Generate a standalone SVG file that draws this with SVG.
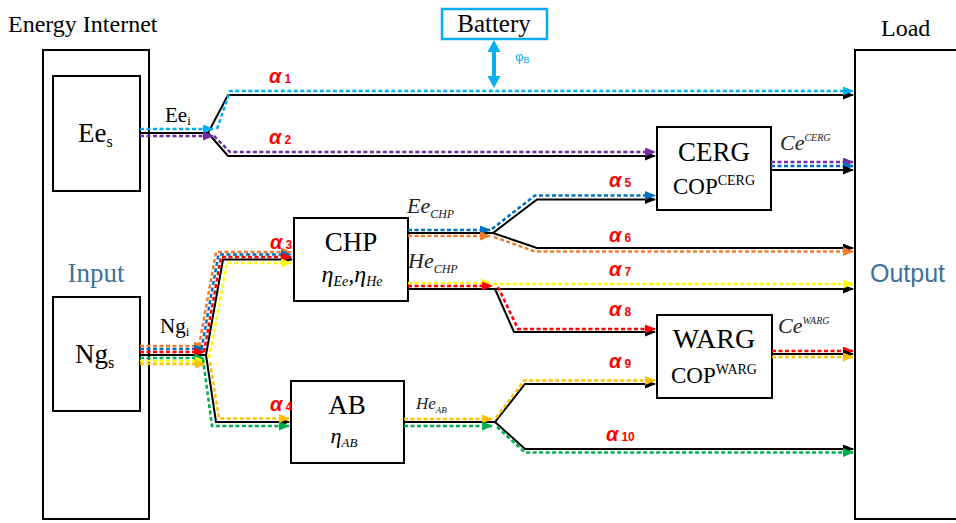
<svg xmlns="http://www.w3.org/2000/svg" width="956" height="523" viewBox="0 0 956 523">
<style>
.box{fill:#fff;stroke:#000;stroke-width:2}
.serif{font-family:"Liberation Serif","Times New Roman",serif;fill:#000}
.it{font-style:italic;fill:#222}
.sans{font-family:"Liberation Sans",Arial,sans-serif;fill:#41719C}
.al{font-family:"Liberation Sans",Arial,sans-serif;font-weight:bold;font-style:italic;fill:#FF0000;font-size:20px}
.al tspan{font-size:12px;font-style:normal}
.k{fill:none;stroke:#000;stroke-width:2}
.d{fill:none;stroke-width:2.5;stroke-dasharray:4 2.5}
.lb{stroke:#00B0F0}.pu{stroke:#7030A0}.bl{stroke:#0070C0}.or{stroke:#ED7D31}
.rd{stroke:#FF0000}.ye{stroke:#FFFF00}.go{stroke:#FFC000}.gr{stroke:#00B050}
</style>
<defs>
<marker id="mk" markerUnits="userSpaceOnUse" markerWidth="11" markerHeight="9" refX="10" refY="4.5" orient="auto"><path d="M0,0 L11,4.5 L0,9 z" fill="#000"/></marker>
<marker id="mlb" markerUnits="userSpaceOnUse" markerWidth="11" markerHeight="9" refX="10" refY="4.5" orient="auto"><path d="M0,0 L11,4.5 L0,9 z" fill="#00B0F0"/></marker>
<marker id="mpu" markerUnits="userSpaceOnUse" markerWidth="11" markerHeight="9" refX="10" refY="4.5" orient="auto"><path d="M0,0 L11,4.5 L0,9 z" fill="#7030A0"/></marker>
<marker id="mbl" markerUnits="userSpaceOnUse" markerWidth="11" markerHeight="9" refX="10" refY="4.5" orient="auto"><path d="M0,0 L11,4.5 L0,9 z" fill="#0070C0"/></marker>
<marker id="mor" markerUnits="userSpaceOnUse" markerWidth="11" markerHeight="9" refX="10" refY="4.5" orient="auto"><path d="M0,0 L11,4.5 L0,9 z" fill="#ED7D31"/></marker>
<marker id="mrd" markerUnits="userSpaceOnUse" markerWidth="11" markerHeight="9" refX="10" refY="4.5" orient="auto"><path d="M0,0 L11,4.5 L0,9 z" fill="#FF0000"/></marker>
<marker id="mye" markerUnits="userSpaceOnUse" markerWidth="11" markerHeight="9" refX="10" refY="4.5" orient="auto"><path d="M0,0 L11,4.5 L0,9 z" fill="#FFFF00"/></marker>
<marker id="mgo" markerUnits="userSpaceOnUse" markerWidth="11" markerHeight="9" refX="10" refY="4.5" orient="auto"><path d="M0,0 L11,4.5 L0,9 z" fill="#FFC000"/></marker>
<marker id="mgr" markerUnits="userSpaceOnUse" markerWidth="11" markerHeight="9" refX="10" refY="4.5" orient="auto"><path d="M0,0 L11,4.5 L0,9 z" fill="#00B050"/></marker>
<marker id="mbat" markerUnits="userSpaceOnUse" markerWidth="12" markerHeight="13" refX="1" refY="6.5" orient="auto-start-reverse"><path d="M0,0 L12,6.5 L0,13 z" fill="#00B0F0"/></marker>
</defs>
<rect width="956" height="523" fill="#fff"/>

<g id="energy-internet">
<rect class="box" x="43" y="50" width="106" height="469"/>
<text class="serif" x="8" y="32" font-size="24">Energy Internet</text>
<text class="serif" x="96" y="282" font-size="27" text-anchor="middle" fill="#41719C" style="fill:#41719C">Input</text>
</g>
<g id="ees">
<rect class="box" x="53" y="76" width="87" height="115"/>
<text class="serif" x="78" y="142" font-size="27">Ee<tspan font-size="16" dy="5">s</tspan></text>
</g>
<g id="ngs">
<rect class="box" x="53" y="297" width="87" height="114"/>
<text class="serif" x="75" y="363" font-size="27">Ng<tspan font-size="16" dy="5">s</tspan></text>
</g>
<g id="load">
<rect class="box" x="855" y="50" width="130" height="469"/>
<text class="serif" x="881" y="36" font-size="24">Load</text>
<text class="sans" x="870" y="282" font-size="25">Output</text>
</g>
<g id="battery">
<rect x="442" y="9" width="105" height="30" fill="#fff" stroke="#00B0F0" stroke-width="2.5"/>
<text class="serif" x="494" y="32" font-size="25" text-anchor="middle">Battery</text>
<text x="515" y="61" font-family="Liberation Sans,Arial,sans-serif" font-size="13" fill="#00B0F0">φ<tspan font-size="9" dy="2">B</tspan></text>
</g>
<g id="chp">
<rect class="box" x="294" y="218" width="114" height="83"/>
<text class="serif" x="351" y="251" font-size="27" text-anchor="middle">CHP</text>
<text class="serif" x="352" y="282" font-size="24" font-style="italic" text-anchor="middle">η<tspan font-size="14" dy="4">Ee</tspan><tspan dy="-4">,η</tspan><tspan font-size="14" dy="4">He</tspan></text>
</g>
<g id="ab">
<rect class="box" x="291" y="381" width="113" height="82"/>
<text class="serif" x="347" y="414" font-size="27" text-anchor="middle">AB</text>
<text class="serif" x="344" y="443" font-size="22" font-style="italic" text-anchor="middle">η<tspan font-size="13" dy="4">AB</tspan></text>
</g>
<g id="cerg">
<rect class="box" x="657" y="127" width="114" height="83"/>
<text class="serif" x="714" y="161" font-size="27" text-anchor="middle">CERG</text>
<text class="serif" x="714" y="194" font-size="23" text-anchor="middle">COP<tspan font-size="14" dy="-9">CERG</tspan></text>
</g>
<g id="warg">
<rect class="box" x="657" y="315" width="115" height="83"/>
<text class="serif" x="714" y="348" font-size="28" text-anchor="middle">WARG</text>
<text class="serif" x="714" y="383" font-size="23" text-anchor="middle">COP<tspan font-size="14" dy="-9">WARG</tspan></text>
</g>

<g id="connectors">
<path class="k" d="M140,133 H208 L228,95 H853" marker-end="url(#mk)"/>
<path class="k" d="M208,133 L228,156 H655" marker-end="url(#mk)"/>
<path class="d lb" d="M140,129 H213" marker-end="url(#mlb)"/>
<path class="d lb" d="M217,129 L230,91 H853" marker-end="url(#mlb)"/>
<path class="d pu" d="M140,136 H213" marker-end="url(#mpu)"/>
<path class="d pu" d="M214,136 L230,152 H655" marker-end="url(#mpu)"/>
<path d="M494,51 V77" stroke="#00B0F0" stroke-width="4" fill="none" marker-start="url(#mbat)" marker-end="url(#mbat)"/>
<path class="d pu" d="M771,162 H853" marker-end="url(#mpu)"/>
<path class="d bl" d="M771,166 H853" marker-end="url(#mbl)"/>
<path class="k" d="M771,170 H853" marker-end="url(#mk)"/>
<path class="k" d="M140,355 H206 L223,259.5 H292" marker-end="url(#mk)"/>
<path class="k" d="M206,355 L216,422 H289" marker-end="url(#mk)"/>
<path class="d or" d="M140,346 H204" marker-end="url(#mor)"/>
<path class="d bl" d="M140,349 H204" marker-end="url(#mbl)"/>
<path class="d rd" d="M140,352 H204" marker-end="url(#mrd)"/>
<path class="d gr" d="M140,358 H204" marker-end="url(#mgr)"/>
<path class="d ye" d="M140,361 H205" marker-end="url(#mye)"/>
<path class="d go" d="M140,364 H205" marker-end="url(#mgo)"/>
<path class="d or" d="M199,346 L216,252 H291" marker-end="url(#mor)"/>
<path class="d bl" d="M201.5,349 L218.5,254.5 H291" marker-end="url(#mbl)"/>
<path class="d rd" d="M204,352 L221,257 H291" marker-end="url(#mrd)"/>
<path class="d ye" d="M209,358 L227,263 H291" marker-end="url(#mye)"/>
<path class="d gr" d="M203,359 L212,426 H289" marker-end="url(#mgr)"/>
<path class="d go" d="M210,362 L219,418.5 H289" marker-end="url(#mgo)"/>
<path class="k" d="M408,233 H493 L537,199.5 H655" marker-end="url(#mk)"/>
<path class="k" d="M493,233 L537,248 H853" marker-end="url(#mk)"/>
<path class="d bl" d="M408,230 H490" marker-end="url(#mbl)"/>
<path class="d bl" d="M492,229 L535,195.5 H655" marker-end="url(#mbl)"/>
<path class="d or" d="M408,236 H490" marker-end="url(#mor)"/>
<path class="d or" d="M494,237 L535,251.5 H853" marker-end="url(#mor)"/>
<path class="k" d="M408,289 H853" marker-end="url(#mk)"/>
<path class="k" d="M495,289 L514,332 H655" marker-end="url(#mk)"/>
<path class="d ye" d="M408,283 H491" marker-end="url(#mye)"/>
<path class="d ye" d="M493,284 H853" marker-end="url(#mye)"/>
<path class="d rd" d="M408,286 H492" marker-end="url(#mrd)"/>
<path class="d rd" d="M498,287 L518,329 H655" marker-end="url(#mrd)"/>
<path class="k" d="M404,422 H495 L525,384 H655" marker-end="url(#mk)"/>
<path class="k" d="M495,422 L525,449 H853" marker-end="url(#mk)"/>
<path class="d go" d="M404,419 H492" marker-end="url(#mgo)"/>
<path class="d go" d="M496,418 L524,380.5 H655" marker-end="url(#mgo)"/>
<path class="d gr" d="M404,426 H492" marker-end="url(#mgr)"/>
<path class="d gr" d="M497,427 L525,452.5 H853" marker-end="url(#mgr)"/>
<path class="d rd" d="M772,351 H853" marker-end="url(#mrd)"/>
<path class="k" d="M772,354 H853" marker-end="url(#mk)"/>
<path class="d go" d="M772,357 H853" marker-end="url(#mgo)"/>
</g>

<g id="labels">
<text class="serif" x="165" y="122" font-size="21">Ee<tspan font-size="13" dy="3">i</tspan></text>
<text class="serif" x="160" y="333" font-size="21">Ng<tspan font-size="13" dy="3">i</tspan></text>
<text class="serif it" x="407" y="213" font-size="22">Ee<tspan font-size="12" dy="5">CHP</tspan></text>
<text class="serif it" x="408" y="268" font-size="22">He<tspan font-size="12" dy="5">CHP</tspan></text>
<text class="serif it" x="416" y="409" font-size="17">He<tspan font-size="9" dy="4">AB</tspan></text>
<text class="serif it" x="780" y="150" font-size="22">Ce<tspan font-size="10" dy="-9">CERG</tspan></text>
<text class="serif it" x="778" y="333" font-size="22">Ce<tspan font-size="10" dy="-9">WARG</tspan></text>
<text class="al" x="269" y="83">α<tspan dx="3">1</tspan></text>
<text class="al" x="269" y="144">α<tspan dx="3">2</tspan></text>
<text class="al" x="270" y="249">α<tspan dx="3">3</tspan></text>
<text class="al" x="270" y="411">α<tspan dx="3">4</tspan></text>
<text class="al" x="609" y="187">α<tspan dx="3">5</tspan></text>
<text class="al" x="609" y="242">α<tspan dx="3">6</tspan></text>
<text class="al" x="609" y="276">α<tspan dx="3">7</tspan></text>
<text class="al" x="609" y="316">α<tspan dx="3">8</tspan></text>
<text class="al" x="609" y="368">α<tspan dx="3">9</tspan></text>
<text class="al" x="606" y="441">α<tspan dx="3">10</tspan></text>
</g>
</svg>
